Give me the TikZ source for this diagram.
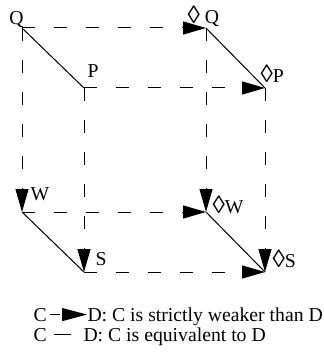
\documentclass[tikz,border=0pt]{standalone}
\usepackage{fontspec}
\setmainfont{Liberation Serif}
\usetikzlibrary{arrows.meta}
\newcommand{\dia}{{\fontsize{12.5}{12}\selectfont ◊}}
\tikzset{
  weaker/.style={dash pattern=on 6.5pt off 9.5pt, -{Triangle[length=11.5pt,width=6.5pt]}},
  equiv/.style={solid},
  lbl/.style={anchor=base west, inner sep=0pt, font=\fontsize{9.85}{12}\selectfont},
}
\begin{document}
\begin{tikzpicture}[x=0.5pt, y=-0.5pt, line width=0.5pt]
        \useasboundingbox (0,0) rectangle (324,352);
        % corners
        \coordinate (Q) at (22,28);
        \coordinate (P) at (84,88);
        \coordinate (W) at (22,212);
        \coordinate (S) at (84,272);
        \coordinate (dQ) at (206,28);
        \coordinate (dP) at (265,88);
        \coordinate (dW) at (206,212);
        \coordinate (dS) at (265,272);
        % labels
        \node[lbl] (lQ) at (9,25) {Q};
        \node[lbl] (lP) at (87,78) {P};
        \node[lbl] (lW) at (30,200) {W};
        \node[lbl] (lS) at (95,265) {S};
        \node[lbl] (ldQ) at (187,24) {\dia\ Q};
        \node[lbl] (ldP) at (260,83) {\dia P};
        \node[lbl] (ldW) at (212,213) {\dia W};
        \node[lbl] (ldS) at (272,267) {\dia S};
        % strictly weaker
        \draw[weaker] (Q) -- (dQ);
        \draw[weaker] (P) -- (dP);
        \draw[weaker] (W) -- (dW);
        \draw[weaker] (S) -- (dS);
        \draw[weaker] (Q) -- (W);
        \draw[weaker] (P) -- (S);
        \draw[weaker] (dQ) -- (dW);
        \draw[weaker] (dP) -- (dS);
        % equivalent
        \draw[equiv] (Q) -- (P);
        \draw[equiv] (W) -- (S);
        \draw[equiv] (dQ) -- (dP);
        \draw[equiv] (dW) -- (dS);
        % legend
        \node[lbl] (c1) at (33,321) {C};
        \node[lbl] (d1) at (87,321) {D: C is strictly weaker than D};
        \node[lbl] (c2) at (33,341) {C};
        \node[lbl] (d2) at (83,341) {D: C is equivalent to D};
        \draw[weaker, dash pattern=on 5pt off 2pt, -{Triangle[length=12.5pt,width=6.5pt]}, shorten <=1.5pt] (c1.east) -- (c1.east -| d1.west);
        \draw[equiv, shorten <=3.5pt, shorten >=6pt] (c2.east) -- (c2.east -| d2.west);
    \end{tikzpicture}
\end{document}
